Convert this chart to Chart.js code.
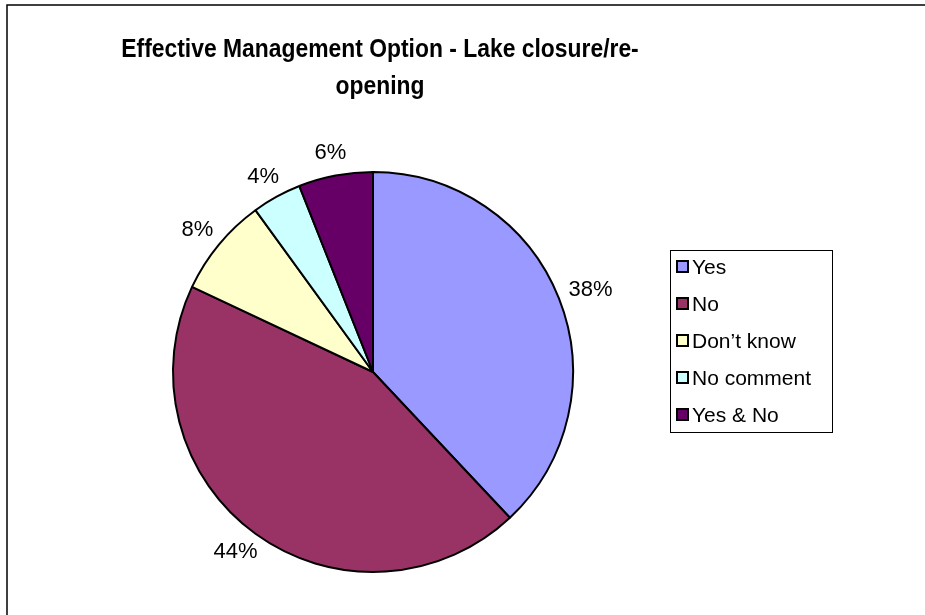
<!DOCTYPE html>
<html>
<head>
<meta charset="utf-8">
<script src="https://cdn.jsdelivr.net/npm/chart.js@4.4.1/dist/chart.umd.min.js"></script>
<style>
  html, body { margin: 0; padding: 0; background: #ffffff; }
  #wrap { position: relative; width: 925px; height: 615px; }
</style>
</head>
<body>
<div id="wrap"><canvas id="c" width="925" height="615"></canvas></div>
<script>
const titleLines = ["Effective Management Option - Lake closure/re-", "opening"];
const categories = ["Yes", "No", "Don\u2019t know", "No comment", "Yes & No"];
const percentValues = [38, 44, 8, 4, 6];
const sliceColors = ["#9999FF", "#993366", "#FFFFCC", "#CCFFFF", "#660066"];

const FONT = "'Liberation Sans', Arial, sans-serif";

const framePlugin = {
  id: 'frame',
  beforeDraw(chart) {
    const ctx = chart.ctx;
    ctx.save();
    ctx.fillStyle = '#ffffff';
    ctx.fillRect(0, 0, chart.width, chart.height);
    ctx.strokeStyle = '#000000';
    ctx.lineWidth = 1.5;
    ctx.beginPath();
    ctx.moveTo(7, chart.height + 2);
    ctx.lineTo(7, 5);
    ctx.lineTo(chart.width + 2, 5);
    ctx.stroke();
    ctx.restore();
  }
};

const titlePlugin = {
  id: 'customTitle',
  afterDraw(chart) {
    const ctx = chart.ctx;
    ctx.save();
    ctx.fillStyle = '#000000';
    ctx.font = "bold 26px " + FONT;
    ctx.textAlign = 'center';
    ctx.textBaseline = 'alphabetic';
    ctx.translate(380, 0);
    ctx.scale(0.88, 1);
    titleLines.forEach((t, i) => ctx.fillText(t, 0, 57 + i * 37));
    ctx.restore();
  }
};

const labelPlugin = {
  id: 'sliceLabels',
  afterDatasetsDraw(chart) {
    const ctx = chart.ctx;
    const meta = chart.getDatasetMeta(0);
    const ds = chart.data.datasets[0];
    ctx.save();
    ctx.font = "22px " + FONT;
    ctx.fillStyle = '#000000';
    ctx.textAlign = 'center';
    ctx.textBaseline = 'middle';
    meta.data.forEach((arc, i) => {
      const p = arc.getProps(['x', 'y', 'startAngle', 'endAngle', 'outerRadius'], true);
      const mid = (p.startAngle + p.endAngle) / 2;
      const dx = Math.cos(mid), dy = Math.sin(mid);
      const txt = ds.data[i] + '%';
      const w = ctx.measureText(txt).width;
      const h = 22;
      const gap = 12;
      const ax = p.x + (p.outerRadius + gap) * dx;
      const ay = p.y + (p.outerRadius + gap) * dy;
      ctx.fillText(txt, ax + dx * w / 2, ay + dy * h / 2);
    });
    ctx.restore();
  }
};

const legendPlugin = {
  id: 'boxLegend',
  afterDraw(chart) {
    const ctx = chart.ctx;
    const ds = chart.data.datasets[0];
    const left = 670, top = 250, width = 162, height = 182;
    ctx.save();
    ctx.strokeStyle = '#000000';
    ctx.lineWidth = 1;
    ctx.strokeRect(left + 0.5, top + 0.5, width, height);
    ctx.font = "21px " + FONT;
    ctx.textBaseline = 'middle';
    ctx.textAlign = 'left';
    chart.data.labels.forEach((lab, i) => {
      const cy = top + 17 + i * 37;
      ctx.fillStyle = ds.backgroundColor[i];
      ctx.fillRect(677, cy - 6, 11, 11);
      ctx.strokeStyle = '#000000';
      ctx.lineWidth = 2;
      ctx.strokeRect(677, cy - 6, 11, 11);
      ctx.fillStyle = '#000000';
      ctx.fillText(lab, 692, cy + 1);
    });
    ctx.restore();
  }
};

new Chart(document.getElementById('c'), {
  type: 'pie',
  data: {
    labels: categories,
    datasets: [{
      data: percentValues,
      backgroundColor: sliceColors,
      borderColor: '#000000',
      borderWidth: 2
    }]
  },
  options: {
    responsive: false,
    animation: false,
    events: [],
    layout: { padding: { left: 172, right: 351, top: 171, bottom: 42 } },
    plugins: {
      legend: { display: false },
      title: { display: false },
      tooltip: { enabled: false }
    }
  },
  plugins: [framePlugin, titlePlugin, labelPlugin, legendPlugin]
});
</script>
</body>
</html>
